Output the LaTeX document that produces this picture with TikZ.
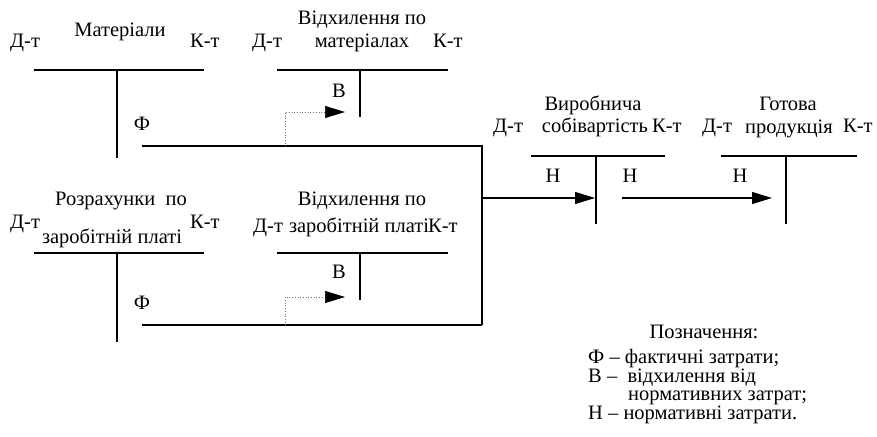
\documentclass[tikz,border=0pt]{standalone}
\usepackage{fontspec}
\setmainfont{Liberation Serif}
\usetikzlibrary{arrows.meta}
\begin{document}
\begin{tikzpicture}[x=1pt,y=-1pt,
  acc/.style={line width=1.2pt},
  lbl/.style={font=\fontsize{20.5}{22}\selectfont, inner sep=0pt, anchor=base},
  lblw/.style={lbl, anchor=base west},
  legend/.style={font=\fontsize{20.5}{17.7}\selectfont, inner sep=0pt, align=left, anchor=north west},
  flow/.style={line width=1.2pt, -{Triangle[length=20pt,width=12pt]}},
  dev/.style={line width=0.7pt, dotted, black!55, -{Triangle[length=20pt,width=12pt,color=black]}}]
\fill[white] (0,0) rectangle (877,436);
\useasboundingbox (0,0) rectangle (877,436);

% --- Account 1: Матеріали
\coordinate (a1l) at (34,70); \coordinate (a1r) at (204,70);
\coordinate (a1t) at (117,70); \coordinate (a1b) at (117,158);
\draw[acc] (a1l) -- (a1r); \draw[acc] (a1t) -- (a1b);
\node[lblw] (a1dt) at (10,48) {Д-т};
\node[lbl] (a1n) at (120,37) {Матеріали};
\node[lblw] (a1kt) at (190,48) {К-т};
\node[lbl] (a1f) at (142,130) {Ф};

% --- Account 2: Відхилення по матеріалах
\coordinate (a2l) at (277,70); \coordinate (a2r) at (448,70);
\coordinate (a2t) at (360,70); \coordinate (a2b) at (360,117);
\draw[acc] (a2l) -- (a2r); \draw[acc] (a2t) -- (a2b);
\node[lblw] (a2dt) at (252,48) {Д-т};
\node[lbl] (a2n1) at (362,25) {Відхилення по};
\node[lbl] (a2n2) at (362,48) {матеріалах};
\node[lblw] (a2kt) at (433,48) {К-т};
\node[lbl] (a2v) at (339,97) {В};

% --- Account 3: Розрахунки по заробітній платі
\coordinate (a3l) at (34,253); \coordinate (a3r) at (204,253);
\coordinate (a3t) at (117,253); \coordinate (a3b) at (117,342);
\draw[acc] (a3l) -- (a3r); \draw[acc] (a3t) -- (a3b);
\node[lblw] (a3dt) at (10,228) {Д-т};
\node[lbl] (a3n1) at (121,205) {Розрахунки\ \ по};
\node[lbl] (a3n2) at (112,243) {заробітній платі};
\node[lblw] (a3kt) at (190,228) {К-т};
\node[lbl] (a3f) at (142,309) {Ф};

% --- Account 4: Відхилення по заробітній платі
\coordinate (a4l) at (277,253); \coordinate (a4r) at (448,253);
\coordinate (a4t) at (360,253); \coordinate (a4b) at (360,300);
\draw[acc] (a4l) -- (a4r); \draw[acc] (a4t) -- (a4b);
\node[lblw] (a4dt) at (253,232) {Д-т};
\node[lbl] (a4n1) at (362,205) {Відхилення по};
\node[lbl] (a4n2) at (359,232) {заробітній платі};
\node[lblw] (a4kt) at (428,232) {К-т};
\node[lbl] (a4v) at (339,278) {В};

% --- Account 5: Виробнича собівартість
\coordinate (a5l) at (531,156); \coordinate (a5r) at (665,156);
\coordinate (a5t) at (596,156); \coordinate (a5b) at (596,224);
\draw[acc] (a5l) -- (a5r); \draw[acc] (a5t) -- (a5b);
\node[lblw] (a5dt) at (493,132) {Д-т};
\node[lbl] (a5n1) at (593,110) {Виробнича};
\node[lbl] (a5n2) at (595,132) {собівартість};
\node[lblw] (a5kt) at (652,132) {К-т};
\node[lbl] (a5h1) at (553,182) {Н};
\node[lbl] (a5h2) at (630,182) {Н};

% --- Account 6: Готова продукція
\coordinate (a6l) at (721,156); \coordinate (a6r) at (857,156);
\coordinate (a6t) at (786,156); \coordinate (a6b) at (786,224);
\draw[acc] (a6l) -- (a6r); \draw[acc] (a6t) -- (a6b);
\node[lblw] (a6dt) at (702,132) {Д-т};
\node[lbl] (a6n1) at (788,110) {Готова};
\node[lbl] (a6n2) at (789,133) {продукція};
\node[lblw] (a6kt) at (843,132) {К-т};
\node[lbl] (a6h) at (740,182) {Н};

% --- Flow lines
\coordinate (f1s) at (142,146); \coordinate (jt) at (482,146);
\coordinate (f2s) at (142,325); \coordinate (jb) at (482,325);
\draw[acc] (f1s) -- (jt) -- (jb);
\draw[acc] (f2s) -- (jb);

\coordinate (d1s) at (285,146); \coordinate (d1e) at (345,112);
\draw[dev] (d1s) |- (d1e);
\coordinate (d2s) at (285,325); \coordinate (d2e) at (345,297);
\draw[dev] (d2s) |- (d2e);

\coordinate (o1s) at (482,198); \coordinate (o1e) at (595,198);
\draw[flow] (o1s) -- (o1e);
\coordinate (o2s) at (622,198); \coordinate (o2e) at (772,198);
\draw[flow] (o2s) -- (o2e);

% --- Legend
\node[lbl] (lg0) at (704,338) {Позначення:};
\node[legend] (lg1) at (588,349) {Ф – фактичні затрати;\\
В –\ \ відхилення від\\
\hspace*{40pt}нормативних затрат;\\
Н – нормативні затрати.};
\end{tikzpicture}
\end{document}
